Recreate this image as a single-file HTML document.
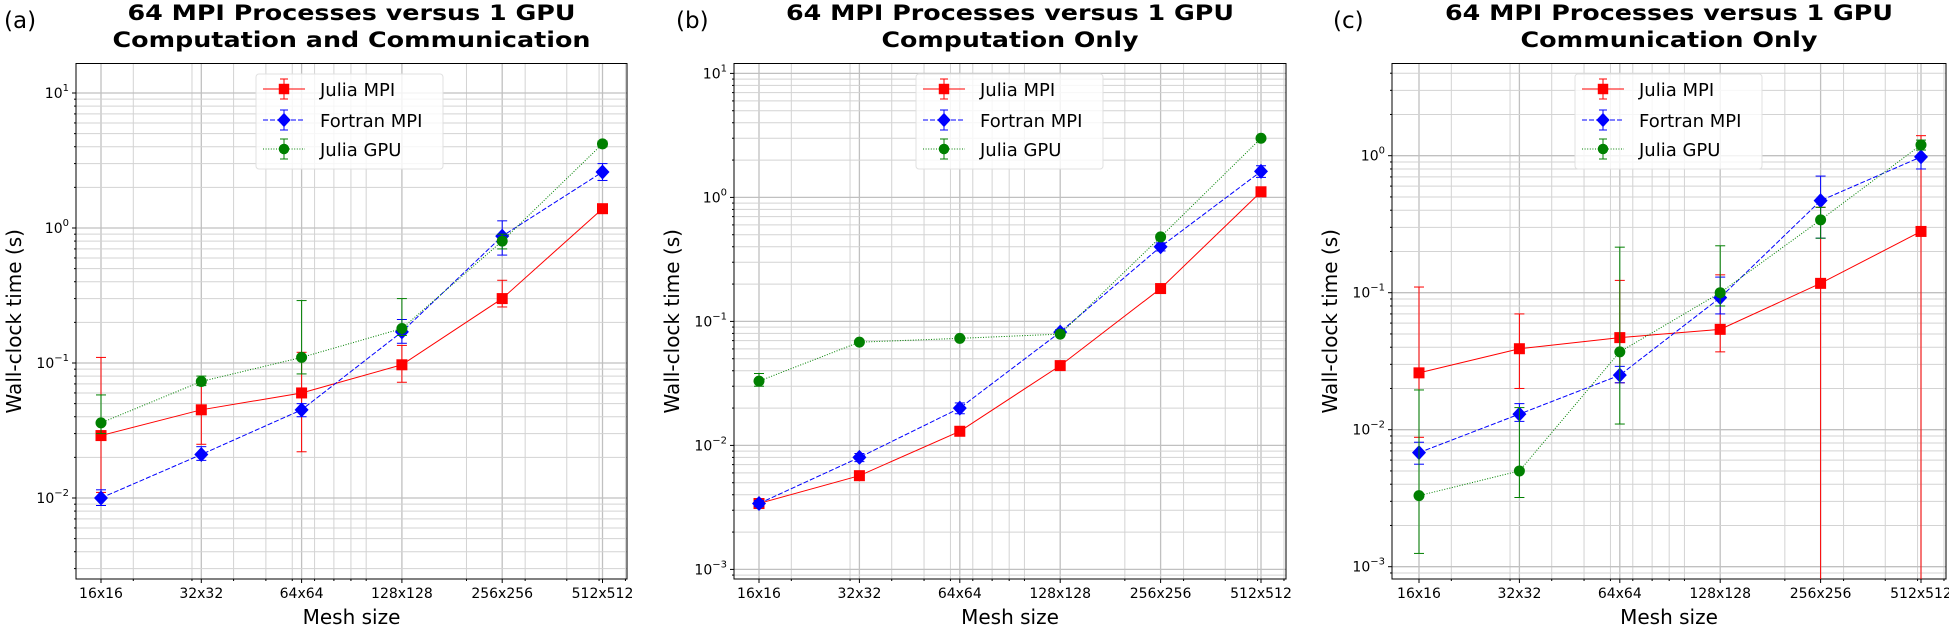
<!DOCTYPE html>
<html><head><meta charset="utf-8">
<style>
html,body{margin:0;padding:0;background:#fff;width:1949px;height:630px;overflow:hidden;}
svg{display:block;position:absolute;left:0;top:0;font-family:"DejaVu Sans","Liberation Sans",sans-serif;}
</style></head>
<body>
<svg id="fig" width="1949" height="630" viewBox="0 0 1949 630" xmlns="http://www.w3.org/2000/svg"></svg>
<script>
// ---- data ----
const categories = ["16x16","32x32","64x64","128x128","256x256","512x512"];
const meshN = [16,32,64,128,256,512];
const seriesNames = ["Julia MPI","Fortran MPI","Julia GPU"];
// Panel (a)
const aJuliaMPI = [0.029,0.045,0.060,0.097,0.30,1.39];
const aJuliaMPILo = [0.011,0.025,0.022,0.072,0.26,1.33];
const aJuliaMPIHi = [0.11,0.07,0.12,0.135,0.41,1.45];
const aFortran = [0.010,0.021,0.045,0.17,0.87,2.6];
const aFortranLo = [0.0088,0.019,0.040,0.14,0.63,2.25];
const aFortranHi = [0.0115,0.024,0.050,0.21,1.13,3.0];
const aGPU = [0.036,0.073,0.11,0.18,0.80,4.2];
const aGPULo = [0.030,0.068,0.083,0.16,0.70,4.0];
const aGPUHi = [0.058,0.080,0.29,0.30,0.90,4.4];
// Panel (b)
const bJuliaMPI = [0.0034,0.0057,0.013,0.044,0.184,1.11];
const bFortran = [0.0034,0.0080,0.020,0.082,0.40,1.62];
const bFortranLo = [0.0032,0.0074,0.018,0.078,0.37,1.45];
const bFortranHi = [0.0036,0.0086,0.022,0.086,0.43,1.80];
const bGPU = [0.033,0.068,0.073,0.079,0.48,3.0];
const bGPULo = [0.030,0.066,0.071,0.077,0.46,2.9];
const bGPUHi = [0.038,0.070,0.075,0.081,0.50,3.1];
// Panel (c)
const cJuliaMPI = [0.026,0.039,0.047,0.054,0.117,0.28];
const cJuliaMPILo = [0.0088,0.020,0.022,0.037,0.0001,0.0001];
const cJuliaMPIHi = [0.11,0.070,0.123,0.135,0.42,1.4];
const cFortran = [0.0068,0.013,0.025,0.092,0.47,0.98];
const cFortranLo = [0.0056,0.0115,0.022,0.070,0.25,0.80];
const cFortranHi = [0.0081,0.0155,0.029,0.130,0.71,1.20];
const cGPU = [0.0033,0.0050,0.037,0.100,0.34,1.2];
const cGPULo = [0.00125,0.0032,0.011,0.080,0.25,1.1];
const cGPUHi = [0.0195,0.0145,0.215,0.220,0.42,1.3];
const yTicksA = [-2,-1,0,1];
const yTicksB = [-3,-2,-1,0,1];
const yTicksC = [-3,-2,-1,0];

const NS="http://www.w3.org/2000/svg";
const svg=document.getElementById('fig');
function mk(tag,attrs,parent){const e=document.createElementNS(NS,tag);for(const k in attrs)e.setAttribute(k,attrs[k]);(parent||svg).appendChild(e);return e;}

const Y0=63.5, Y1=579;
const panels=[
 {label:"(a)",labelX:4,t2:"Computation and Communication",t2w:478,x0:76,x1:627,xs16:101,xs512:602.5,yRef:-2,yRefPx:498,pxDec:135,yTicks:yTicksA,
  series:[[aJuliaMPI,aJuliaMPILo,aJuliaMPIHi],[aFortran,aFortranLo,aFortranHi],[aGPU,aGPULo,aGPUHi]],legX:256},
 {label:"(b)",labelX:676,t2:"Computation Only",t2w:257,x0:734,x1:1286,xs16:759,xs512:1261,yRef:-2,yRefPx:445.4,pxDec:124,yTicks:yTicksB,
  series:[[bJuliaMPI,null,null],[bFortran,bFortranLo,bFortranHi],[bGPU,bGPULo,bGPUHi]],legX:916},
 {label:"(c)",labelX:1333,t2:"Communication Only",t2w:297,x0:1392,x1:1946,xs16:1419,xs512:1921,yRef:-2,yRefPx:429.7,pxDec:137,yTicks:yTicksC,
  series:[[cJuliaMPI,cJuliaMPILo,cJuliaMPIHi],[cFortran,cFortranLo,cFortranHi],[cGPU,cGPULo,cGPUHi]],legX:1575}
];
const colors=["#ff0000","#0000ff","#008000"];
const dashes=["none","5,2","1,1.6"];

panels.forEach((p,pi)=>{
  p.y0=Y0;p.y1=Y1;
  const g=mk('g',{});
  
  
  const pxPerLog2=(p.xs512-p.xs16)/5;
  const X=v=>p.xs16+Math.log2(v/16)*pxPerLog2;
  const Y=v=>p.yRefPx-(Math.log10(v)-p.yRef)*p.pxDec;
  const cx=(p.x0+p.x1)/2;
  const cp=mk('clipPath',{id:'clip'+pi},g);mk('rect',{x:p.x0,y:p.y0,width:p.x1-p.x0,height:p.y1-p.y0},cp);
  const grid=mk('g',{'clip-path':'url(#clip'+pi+')'},g);
  
  
  for(let e=1;e<=2;e++)for(let m=1;m<=9;m++){const v=m*Math.pow(10,e);const x=X(v);if(x>p.x0&&x<p.x1)mk('line',{x1:x,x2:x,y1:p.y0,y2:p.y1,stroke:'#d3d3d3','stroke-width':1},grid);}
  meshN.forEach(n=>{const x=X(n);mk('line',{x1:x,x2:x,y1:p.y0,y2:p.y1,stroke:'#c0c0c0','stroke-width':1.3},grid);});
  for(let e=-4;e<=1;e++)for(let m=1;m<=9;m++){const v=m*Math.pow(10,e);const y=Y(v);if(y>p.y0&&y<p.y1)mk('line',{x1:p.x0,x2:p.x1,y1:y,y2:y,stroke:m==1?'#c0c0c0':'#d3d3d3','stroke-width':m==1?1.3:1},grid);}
  const fr=mk('rect',{x:p.x0,y:p.y0,width:p.x1-p.x0,height:p.y1-p.y0,fill:'none',stroke:'#000','stroke-width':1},g);
  
  
  meshN.forEach((n,i)=>{const x=X(n);mk('line',{x1:x,x2:x,y1:p.y1,y2:p.y1+4,stroke:'#000'},g);
    const t=mk('text',{x:x,y:p.y1+19,'font-size':14,'text-anchor':'middle',fill:'#000'},g);t.textContent=categories[i];
    
    });
  for(let e=1;e<=2;e++)for(let m=1;m<=9;m++){const x=X(m*Math.pow(10,e));if(x>p.x0&&x<p.x1)mk('line',{x1:x,x2:x,y1:p.y1,y2:p.y1+2,stroke:'#000'},g);}
  for(let e=-4;e<=1;e++)for(let m=2;m<=9;m++){const y=Y(m*Math.pow(10,e));if(y>p.y0&&y<p.y1)mk('line',{x1:p.x0-2,x2:p.x0,y1:y,y2:y,stroke:'#000'},g);}
  p.yTicks.forEach(e=>{const y=Y(Math.pow(10,e));mk('line',{x1:p.x0-4,x2:p.x0,y1:y,y2:y,stroke:'#000'},g);
    const t=mk('text',{x:p.x0-7,y:y+5,'font-size':14,'text-anchor':'end',fill:'#000'},g);
    
    
    const a=mk('tspan',{},t);a.textContent='10';
    const b=mk('tspan',{dy:-7,'font-size':10},t);b.textContent=(e<0?'\u2212':'')+Math.abs(e);});
  const xl=mk('text',{x:cx,y:624,'font-size':20,'text-anchor':'middle',fill:'#000'},g);xl.textContent='Mesh size';
  
  
  const ylx=p.x0-55;
  const yl=mk('text',{x:0,y:0,'font-size':20,'text-anchor':'middle',fill:'#000',transform:`translate(${ylx},${(p.y0+p.y1)/2}) rotate(-90)`},g);yl.textContent='Wall-clock time (s)';
  
  
  const t1=mk('text',{x:cx,y:20,'font-size':21,'font-weight':'bold','text-anchor':'middle',fill:'#000',textLength:448,lengthAdjust:'spacingAndGlyphs'},g);t1.textContent='64 MPI Processes versus 1 GPU';
  
  
  const t2=mk('text',{x:cx,y:47,'font-size':21,'font-weight':'bold','text-anchor':'middle',fill:'#000',textLength:p.t2w,lengthAdjust:'spacingAndGlyphs'},g);t2.textContent=p.t2;
  
  
  const pl=mk('text',{x:p.labelX,y:28,'font-size':23,fill:'#000'},g);pl.textContent=p.label;
  
  
  const plot=mk('g',{'clip-path':'url(#clip'+pi+')'},g);
  function marker(k,x,y,par,s){
    if(k==0)return mk('rect',{x:x-5.5*s,y:y-5.5*s,width:11*s,height:11*s,fill:colors[0]},par);
    if(k==1)return mk('polygon',{points:`${x},${y-7.5*s} ${x+7*s},${y} ${x},${y+7.5*s} ${x-7*s},${y}`,fill:colors[1]},par);
    return mk('circle',{cx:x,cy:y,r:5.5*s,fill:colors[2]},par);
  }
  p.series.forEach((s,k)=>{
    const [vals,lo,hi]=s;
    const sg=mk('g',{},plot);
    
    
    const pts=vals.map((v,i)=>X(meshN[i])+','+Y(v)).join(' ');
    mk('polyline',{points:pts,fill:'none',stroke:colors[k],'stroke-width':1,'stroke-dasharray':dashes[k]},sg);
    if(lo&&hi)vals.forEach((v,i)=>{const x=X(meshN[i]);const ya=Y(hi[i]),yb=Y(lo[i]);
      const eb=mk('g',{stroke:colors[k],'stroke-width':1},sg);
      
      
      mk('line',{x1:x,x2:x,y1:ya,y2:yb},eb);
      mk('line',{x1:x-5,x2:x+5,y1:ya,y2:ya},eb);
      mk('line',{x1:x-5,x2:x+5,y1:yb,y2:yb},eb);});
    vals.forEach((v,i)=>{const m=marker(k,X(meshN[i]),Y(v),sg,1);
      
      });
  });
  const lg=mk('g',{},g);
  
  
  const lx=p.legX;
  mk('rect',{x:lx,y:74,width:187,height:95,rx:3,fill:'#fff','fill-opacity':0.8,stroke:'#e0e0e0','stroke-width':1},lg);
  const ly=[89,120,149];
  seriesNames.forEach((n,k)=>{
    const e=mk('g',{},lg);
    
    
    mk('line',{x1:lx+7,x2:lx+49,y1:ly[k],y2:ly[k],stroke:colors[k],'stroke-width':1,'stroke-dasharray':dashes[k]},e);
    mk('line',{x1:lx+28,x2:lx+28,y1:ly[k]-10,y2:ly[k]+10,stroke:colors[k]},e);
    mk('line',{x1:lx+24,x2:lx+32,y1:ly[k]-10,y2:ly[k]-10,stroke:colors[k]},e);
    mk('line',{x1:lx+24,x2:lx+32,y1:ly[k]+10,y2:ly[k]+10,stroke:colors[k]},e);
    marker(k,lx+28,ly[k],e,0.95);
    const t=mk('text',{x:lx+64,y:ly[k]+7,'font-size':18,fill:'#000'},e);t.textContent=n;
  });
});
</script>
</body></html>
